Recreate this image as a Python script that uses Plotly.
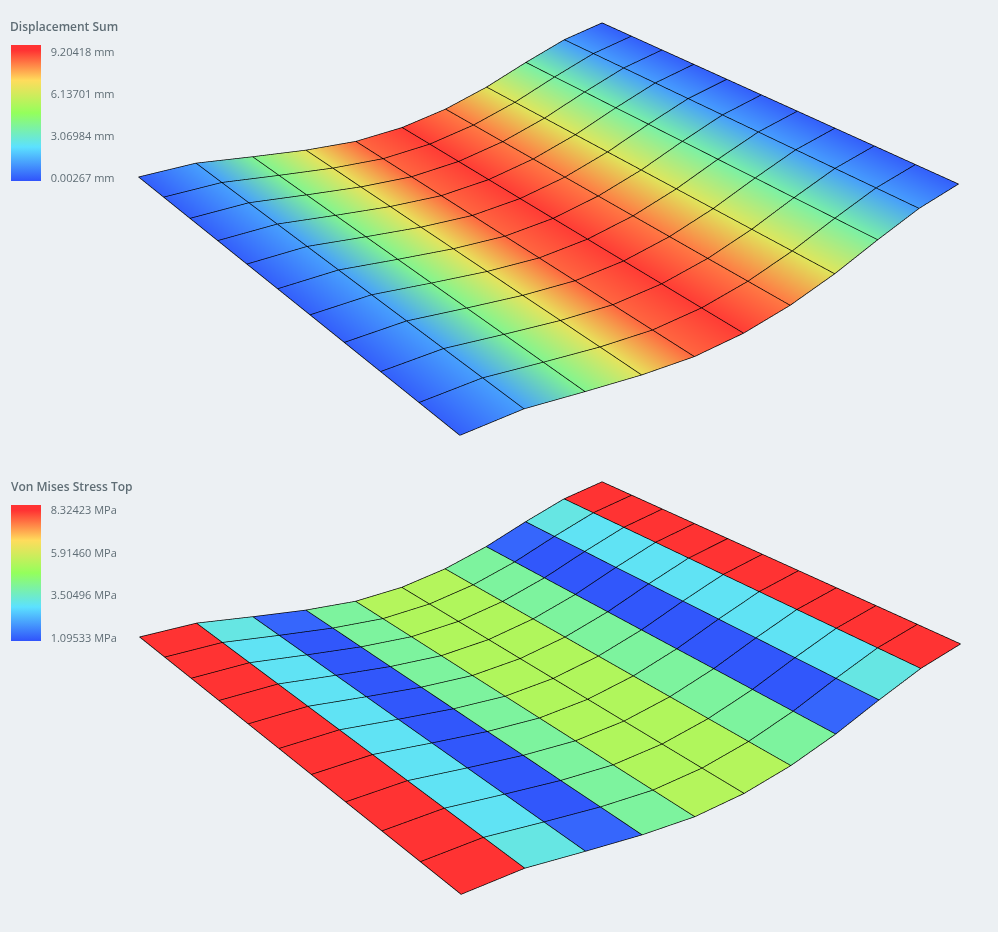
import numpy as np
import plotly.graph_objects as go
from plotly.colors import sample_colorscale

# Plate results
displacement_mm = [0.00267, 1.15, 3.96, 6.63, 8.65, 9.20418, 8.4, 6.44, 3.6, 1.1, 0.00267]
stress_strip_mpa = [8.32423, 3.0, 1.0, 4.01, 5.28, 5.28, 4.01, 1.0, 3.0, 8.32423]
stress_end_mpa = [8.32423, 3.2, 1.2, 4.01, 5.35, 5.35, 4.01, 1.2, 3.2, 8.32423]

disp_ticks = [0.00267, 3.06984, 6.13701, 9.20418]
disp_labels = ["0.00267 mm", "3.06984 mm", "6.13701 mm", "9.20418 mm"]
stress_ticks = [1.09533, 3.50496, 5.91460, 8.32423]
stress_labels = ["1.09533 MPa", "3.50496 MPa", "5.91460 MPa", "8.32423 MPa"]

rainbow = [
    [0.0, "#3053fb"],
    [0.25, "#5ce1ff"],
    [0.5, "#94ff5c"],
    [0.74, "#ffdc5c"],
    [0.96, "#ff3333"],
    [1.0, "#ff3333"],
]
BG = "#ecf0f3"
TXT = "#5f6d75"
NO_LIGHT = dict(ambient=1.0, diffuse=0.0, specular=0.0, roughness=1.0, fresnel=0.0)
DISP_MIN, DISP_MAX = -0.216, 9.716
STRESS_MIN, STRESS_MAX = 0.924, 8.634

n = len(displacement_mm)
sag = np.array([0.53, -3.085, -1.0]) * 0.0047  # scene units per mm


def plate_nodes(origin, edge_u, edge_v):
    u, v = np.meshgrid(np.linspace(0, 1, n), np.linspace(0, 1, n))
    d = np.array([displacement_mm] * n)
    return [origin[a] + edge_u[a] * u + edge_v[a] * v + sag[a] * d for a in range(3)]


def triangles():
    i, j, k = [], [], []
    for r in range(n - 1):
        for c in range(n - 1):
            p = r * n + c
            i += [p, p]
            j += [p + 1, p + n + 1]
            k += [p + n + 1, p + n]
    return i, j, k


def grid_lines(X, Y, Z):
    xs, ys, zs = [], [], []
    for r in range(n):
        xs += list(X[r, :]) + [None]
        ys += list(Y[r, :]) + [None]
        zs += list(Z[r, :] + 0.003) + [None]
    for c in range(n):
        xs += list(X[:, c]) + [None]
        ys += list(Y[:, c]) + [None]
        zs += list(Z[:, c] + 0.003) + [None]
    return go.Scatter3d(x=xs, y=ys, z=zs, mode="lines", line=dict(color="#000000", width=1.4),
                        hoverinfo="skip", showlegend=False)


def bar(ticks, labels, y):
    return dict(tickmode="array", tickvals=ticks, ticktext=labels, lenmode="pixels", len=136,
                thicknessmode="pixels", thickness=30, x=11 / 998, xanchor="left", xpad=0, ypad=0,
                y=y, yanchor="top", outlinewidth=0, ticks="outside", ticklen=8, tickcolor="rgba(0,0,0,0)",
                tickfont=dict(family="Open Sans", size=11, color=TXT))


X1, Y1, Z1 = plate_nodes([-1.2822, 0.1994, -0.0038], [1.7345, 0.7226, -0.4671], [1.1760, -0.7484, 0.4747])
X2, Y2, Z2 = plate_nodes([-1.2832, 0.2216, -0.011], [1.7337, 0.7278, -0.4505], [1.1797, -0.7549, 0.4722])
I, J, K = triangles()

# top plate: colour per node, blended in rgb between nodes
node_vals = np.array([displacement_mm] * n).ravel()
node_colors = sample_colorscale(rainbow, list((node_vals - DISP_MIN) / (DISP_MAX - DISP_MIN)))
top = go.Mesh3d(
    x=X1.ravel(), y=Y1.ravel(), z=Z1.ravel(), i=I, j=J, k=K, scene="scene",
    vertexcolor=node_colors, lighting=NO_LIGHT, hoverinfo="skip",
)
# vertexcolor has no scale of its own, so the legend hangs on an unseen marker trace
top_scale = go.Scatter3d(
    x=X1.ravel(), y=Y1.ravel(), z=Z1.ravel(), scene="scene", mode="markers", hoverinfo="skip",
    marker=dict(size=1, opacity=0, color=node_vals, colorscale=rainbow, cmin=DISP_MIN, cmax=DISP_MAX,
                showscale=True, colorbar=bar(disp_ticks, disp_labels, 1 - 45 / 932)),
)

# bottom plate: colour per element
cells = []
for r in range(n - 1):
    row = stress_end_mpa if r in (0, n - 2) else stress_strip_mpa
    for c in range(n - 1):
        cells += [row[c], row[c]]
bottom = go.Mesh3d(
    x=X2.ravel(), y=Y2.ravel(), z=Z2.ravel(), i=I, j=J, k=K, scene="scene2",
    intensity=cells, intensitymode="cell",
    colorscale=rainbow, cmin=STRESS_MIN, cmax=STRESS_MAX, lighting=NO_LIGHT, hoverinfo="skip",
    colorbar=bar(stress_ticks, stress_labels, 1 - 505 / 932),
)

lines1 = grid_lines(X1, Y1, Z1)
lines1.scene = "scene"
lines2 = grid_lines(X2, Y2, Z2)
lines2.scene = "scene2"

hidden = dict(visible=False, range=[-2, 2])
view = dict(
    bgcolor=BG,
    aspectmode="manual", aspectratio=dict(x=4, y=4, z=4),
    xaxis=hidden, yaxis=hidden, zaxis=hidden,
    camera=dict(eye=dict(x=0, y=0, z=2), center=dict(x=0, y=0, z=0), up=dict(x=0, y=1, z=0)),
)

fig = go.Figure(data=[top, top_scale, lines1, bottom, lines2])
fig.update_layout(
    width=998, height=932,
    margin=dict(l=0, r=0, t=0, b=0),
    paper_bgcolor=BG,
    showlegend=False,
    scene=dict(domain=dict(x=[0, 1], y=[0.5, 1]), **view),
    scene2=dict(domain=dict(x=[0, 1], y=[0, 0.5]), **view),
    annotations=[
        dict(text="Displacement Sum", x=8 / 998, y=1 - 27 / 932, xref="paper", yref="paper",
             xanchor="left", yanchor="middle", showarrow=False,
             font=dict(family="Open Sans", size=12, color=TXT, weight=600)),
        dict(text="Von Mises Stress Top", x=9 / 998, y=1 - 486 / 932, xref="paper", yref="paper",
             xanchor="left", yanchor="middle", showarrow=False,
             font=dict(family="Open Sans", size=12, color=TXT, weight=600)),
    ],
)

# page default margin would shift the whole figure by 8px
fig.write_html("out.html", config=dict(displayModeBar=False),
               post_script="document.body.style.margin='0';document.body.style.background='#ecf0f3';")
